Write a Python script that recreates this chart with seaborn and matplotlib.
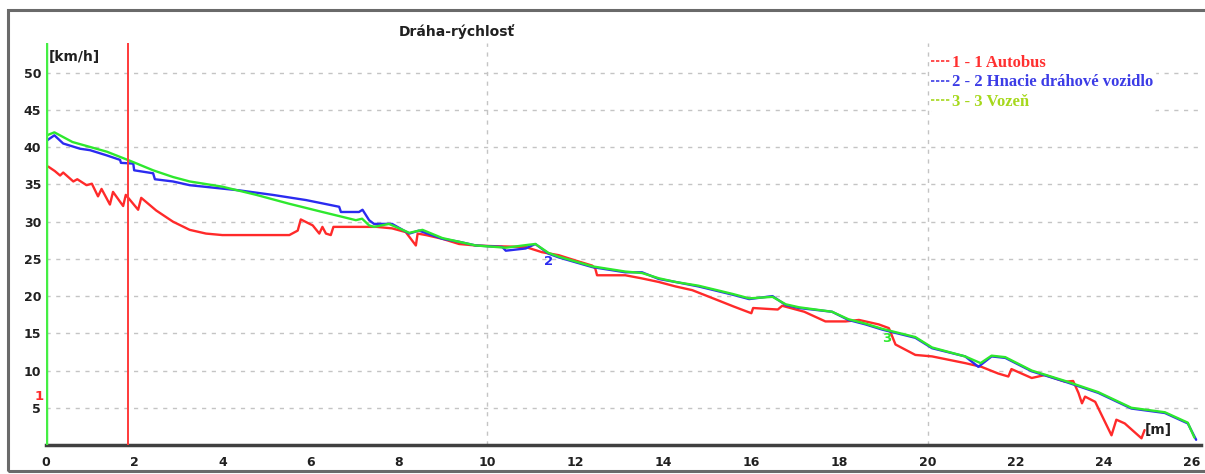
import matplotlib
matplotlib.use("Agg")
import matplotlib.pyplot as plt
import matplotlib.patches as mpatches
from matplotlib.lines import Line2D
import numpy as np
import pandas as pd
import seaborn as sns

# ---------------- data ----------------
series_names = ["1 - 1 Autobus", "2 - 2 Hnacie dráhové vozidlo", "3 - 3 Vozeň"]

autobus_x = [0.05, 0.2, 0.32, 0.39, 0.62, 0.71, 0.92, 1.04, 1.18, 1.26, 1.45, 1.52, 1.75, 1.81,
             2.09, 2.16, 2.5, 2.88, 3.26, 3.63, 4.0, 5.52, 5.71, 5.78, 6.05, 6.2, 6.27, 6.35,
             6.46, 6.52, 7.5, 7.85, 8.16, 8.39, 8.43, 8.62, 8.99, 9.37, 9.75, 10.2, 10.88,
             11.25, 11.63, 12.0, 12.39, 12.46, 12.5, 13.14, 13.5, 13.9, 14.28, 14.66, 15.26,
             15.6, 16.0, 16.04, 16.6, 16.7, 17.2, 17.68, 18.14, 18.44, 18.89, 19.12, 19.27,
             19.72, 20.1, 20.85, 21.22, 21.6, 21.83, 21.9, 22.36, 22.66, 23.12, 23.3, 23.42,
             23.5, 23.57, 23.8, 24.17, 24.28, 24.47, 24.85, 24.92]
autobus_v = [37.4, 36.8, 36.2, 36.6, 35.4, 35.7, 34.9, 35.1, 33.4, 34.4, 32.3, 34.0, 32.1, 33.6,
             31.6, 33.2, 31.5, 30.0, 28.9, 28.4, 28.2, 28.2, 28.8, 30.3, 29.5, 28.4, 29.3, 28.4,
             28.2, 29.3, 29.3, 29.1, 28.6, 26.8, 28.4, 28.2, 27.7, 27.0, 26.8, 26.7, 26.6,
             25.9, 25.5, 24.8, 24.1, 23.7, 22.8, 22.8, 22.4, 21.9, 21.3, 20.8, 19.4,
             18.6, 17.7, 18.4, 18.2, 18.7, 17.9, 16.6, 16.6, 16.8, 16.2, 15.7, 13.5,
             12.1, 11.9, 11.0, 10.5, 9.6, 9.2, 10.2, 9.0, 9.4, 8.5, 8.6, 7.0,
             5.6, 6.5, 5.8, 1.3, 3.4, 2.9, 0.9, 2.0]

hnacie_x = [0.02, 0.19, 0.39, 0.77, 1.0, 1.38, 1.68, 1.70, 1.98, 2.0, 2.43, 2.47, 2.88, 3.26,
            4.39, 5.14, 5.9, 6.65, 6.69, 7.1, 7.18, 7.33, 7.44, 7.85, 8.24, 8.46, 8.99, 9.37,
            9.75, 10.35, 10.43, 10.88, 11.1, 11.4, 11.63, 12.39, 13.14, 13.52, 13.9, 14.28,
            14.8, 15.57, 15.95, 16.48, 16.78, 17.08, 17.83, 18.2, 18.59, 18.97, 19.72, 20.1,
            20.85, 21.15, 21.45, 21.76, 22.36, 23.12, 23.87, 24.62, 25.38, 25.9, 26.09]
hnacie_v = [40.9, 41.6, 40.5, 39.8, 39.6, 38.9, 38.3, 37.9, 37.8, 36.9, 36.5, 35.7, 35.4, 34.9,
            34.2, 33.6, 32.9, 32.0, 31.3, 31.3, 31.6, 30.2, 29.7, 29.7, 28.4, 28.8, 27.7, 27.3,
            26.8, 26.6, 26.1, 26.4, 27.0, 25.7, 25.2, 23.9, 23.2, 23.2, 22.3, 21.9,
            21.3, 20.2, 19.6, 20.0, 18.8, 18.4, 17.9, 16.8, 16.2, 15.5, 14.4, 13.0,
            11.9, 10.5, 11.9, 11.7, 9.9, 8.5, 7.0, 4.9, 4.3, 2.9, 0.7]

vozen_x = [0.02, 0.19, 0.6, 1.38, 1.98, 2.43, 2.88, 3.26, 4.0, 4.77, 5.52, 6.27, 7.03, 7.17,
           7.33, 7.44, 7.78, 8.24, 8.54, 8.99, 9.37, 9.75, 10.43, 10.95, 11.1, 11.4, 11.63,
           12.39, 13.14, 13.52, 13.9, 14.28, 14.8, 15.57, 15.95, 16.48, 16.78, 17.08, 17.83,
           18.2, 18.59, 18.97, 19.72, 20.1, 20.85, 21.2, 21.45, 21.76, 22.36, 23.12, 23.87,
           24.62, 25.38, 25.9, 26.05]
vozen_v = [41.6, 42.0, 40.7, 39.4, 38.0, 36.9, 36.0, 35.4, 34.7, 33.6, 32.4, 31.3, 30.2, 30.4,
           29.5, 29.3, 29.7, 28.5, 28.9, 27.8, 27.3, 26.8, 26.5, 26.9, 27.0, 25.8, 25.3,
           24.0, 23.3, 23.1, 22.4, 21.9, 21.4, 20.3, 19.7, 19.9, 18.9, 18.5, 17.9,
           16.9, 16.3, 15.6, 14.5, 13.1, 11.9, 11.0, 12.0, 11.8, 10.0, 8.6, 7.1,
           5.0, 4.4, 3.0, 1.0]

x_ticks = list(range(0, 27, 2))
y_ticks = list(range(5, 51, 5))
vgrid_x = [10, 20]
cursor_x = [0.0, 1.85]
marker_labels = ["1", "2", "3"]
marker_x = [-0.05, 11.4, 19.08]
marker_y = [6.5, 24.6, 14.3]

line_colors = ["#ff2a2a", "#2b2bf0", "#2ee82e"]
legend_colors = ["#ff3030", "#3c3ce6", "#a6d81c"]

# ---------------- frame ----------------
rows = []
for name, xs, vs in zip(series_names, [autobus_x, hnacie_x, vozen_x],
                        [autobus_v, hnacie_v, vozen_v]):
    for xv, vv in zip(xs, vs):
        rows.append((name, xv, vv))
df = pd.DataFrame(rows, columns=["séria", "dráha", "rýchlosť"])

sns.set_style("white")
plt.rcParams['font.family'] = ['DejaVu Sans']

W, H = 1205, 474
fig = plt.figure(figsize=(W / 100, H / 100), dpi=100)
ax = fig.add_axes([46 / W, 29 / H, 1155 / W, 402 / H])

grid_kw = dict(color="#c4c4c4", lw=1.0, linestyle=(0, (3, 4)), zorder=0)
for yv in y_ticks:
    ax.axhline(yv, **grid_kw)
for xv in vgrid_x:
    ax.axvline(xv, **grid_kw)

sns.lineplot(data=df, x="dráha", y="rýchlosť", hue="séria", hue_order=series_names,
             palette=dict(zip(series_names, line_colors)), estimator=None, sort=False,
             lw=1.7, legend=False, ax=ax, zorder=3)

ax.axvline(cursor_x[0], color="#44ee44", lw=2.5, zorder=4)
ax.axvline(cursor_x[1], color="#ff3a3a", lw=1.4, zorder=4)

for lab, mx, my, c in zip(marker_labels, marker_x, marker_y, line_colors):
    ax.text(mx, my, lab, color=c, fontsize=9.5, fontweight="bold",
            ha="right" if mx < 0 else "center", va="center", zorder=5)

ax.set_xlim(0, 26.2)
ax.set_ylim(0, 54)
ax.set_xticks(x_ticks)
ax.set_yticks(y_ticks)
ax.set_xticklabels([str(t) for t in x_ticks])
ax.set_yticklabels([str(t) for t in y_ticks])
ax.set_xlabel("")
ax.set_ylabel("")
for lab in ax.get_xticklabels() + ax.get_yticklabels():
    lab.set_fontweight("bold")
    lab.set_fontsize(9)
    lab.set_color("#202020")
ax.tick_params(axis="x", direction="inout", length=8, width=1.5, color="#303030", pad=4)
ax.tick_params(axis="y", direction="out", length=3, width=1.5, color="#303030", pad=0.5)
for s in ["top", "right", "left"]:
    ax.spines[s].set_visible(False)
ax.spines["bottom"].set_color("#404040")
ax.spines["bottom"].set_linewidth(2.5)
ax.set_facecolor("white")

handles = [Line2D([0], [0], color=c, lw=1.2, linestyle=(0, (2, 1))) for c in legend_colors]
leg = fig.legend(handles, series_names, loc="upper left",
                 bbox_to_anchor=(930 / W, (H - 54) / H), bbox_transform=fig.transFigure,
                 frameon=True, facecolor="white", edgecolor="white", framealpha=1,
                 handlelength=1.2, handletextpad=0.1, labelspacing=0.22, borderpad=0.05,
                 borderaxespad=0, prop=dict(family=["Liberation Serif", "DejaVu Serif"],
                                            weight="bold", size=12))
for t, c in zip(leg.get_texts(), legend_colors):
    t.set_color(c)
leg.set_zorder(10)

fig.text(457 / W, (H - 32) / H, "Dráha-rýchlosť", ha="center", va="center",
         fontsize=10, fontweight="bold", color="#202020")
fig.text(49 / W, (H - 57) / H, "[km/h]", ha="left", va="center",
         fontsize=10, fontweight="bold", color="#202020")
fig.text(1158 / W, (H - 430) / H, "[m]", ha="center", va="center",
         fontsize=10, fontweight="bold", color="#202020")

fig.patches.append(mpatches.Rectangle((8 / W, 3 / H), 1.05 - 8 / W, (H - 13) / H,
                                      transform=fig.transFigure, fill=False,
                                      edgecolor="#6a6a6a", lw=2.2, zorder=0))

fig.savefig("out.png", dpi=100, facecolor="white")
